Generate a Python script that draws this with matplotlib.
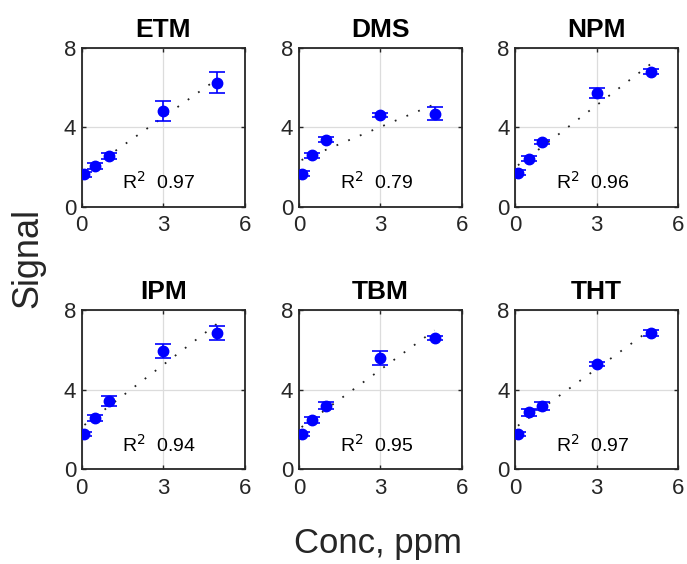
import matplotlib
matplotlib.use('Agg')
import matplotlib.pyplot as plt
import numpy as np

plt.rcParams['font.family'] = ['Liberation Sans', 'DejaVu Sans']

# concentrations (ppm) and mean signal per compound
conc = [0.1, 0.5, 1, 3, 5]
names = ['ETM', 'DMS', 'NPM', 'IPM', 'TBM', 'THT']
signal = {
    'ETM': [1.64, 2.08, 2.58, 4.83, 6.26],
    'DMS': [1.68, 2.60, 3.39, 4.65, 4.70],
    'NPM': [1.73, 2.43, 3.27, 5.74, 6.80],
    'IPM': [1.75, 2.60, 3.45, 5.95, 6.87],
    'TBM': [1.75, 2.49, 3.19, 5.60, 6.60],
    'THT': [1.78, 2.86, 3.16, 5.29, 6.86],
}
err = {
    'ETM': [0.12, 0.15, 0.15, 0.48, 0.52],
    'DMS': [0.12, 0.12, 0.12, 0.10, 0.33],
    'NPM': [0.12, 0.12, 0.12, 0.27, 0.12],
    'IPM': [0.10, 0.15, 0.25, 0.37, 0.36],
    'TBM': [0.10, 0.15, 0.18, 0.37, 0.12],
    'THT': [0.10, 0.18, 0.20, 0.12, 0.15],
}
r2 = ['0.97', '0.79', '0.96', '0.94', '0.95', '0.97']

txt = '#262626'
fig = plt.figure(figsize=(6.87, 5.64), dpi=100)
lefts = [0.119, 0.435, 0.750]
bottoms = [0.633, 0.168]
w, h = 0.237, 0.282

for i, name in enumerate(names):
    ax = fig.add_axes([lefts[i % 3], bottoms[i // 3], w, h])
    x = np.array(conc)
    y = np.array(signal[name])
    p = np.polyfit(x, y, 1)
    xf = np.array([x.min(), x.max()])
    ax.plot(xf, np.polyval(p, xf), color='#222222', lw=1.3, dashes=(1, 6), zorder=2)
    ax.errorbar(x, y, yerr=err[name], fmt='o', color='#0000ff', ms=7.5,
                capsize=6, capthick=1.2, elinewidth=1.2, zorder=3)
    ax.text(1.5, 1.25, r'R$^2$  ' + r2[i], fontsize=14, va='center', color='black')
    ax.set_xlim(0, 6)
    ax.set_ylim(0, 8)
    ax.set_xticks([0, 3, 6])
    ax.set_yticks([0, 4, 8])
    ax.grid(True, color='#dcdcdc', lw=0.9)
    ax.set_axisbelow(True)
    ax.tick_params(direction='in', length=3, width=1, labelsize=16,
                   colors=txt, pad=4, top=True, right=True)
    ax.tick_params(axis='x', pad=6)
    for s in ax.spines.values():
        s.set_color(txt)
        s.set_linewidth(1.3)
    ax.set_title(name, fontsize=19, fontweight='bold', pad=8)

fig.text(0.040, 0.543, 'Signal', rotation=90, fontsize=26, color=txt,
         ha='center', va='center')
fig.text(0.550, 0.037, 'Conc, ppm', fontsize=25, color=txt,
         ha='center', va='center')

fig.savefig('out.png', dpi=100)
